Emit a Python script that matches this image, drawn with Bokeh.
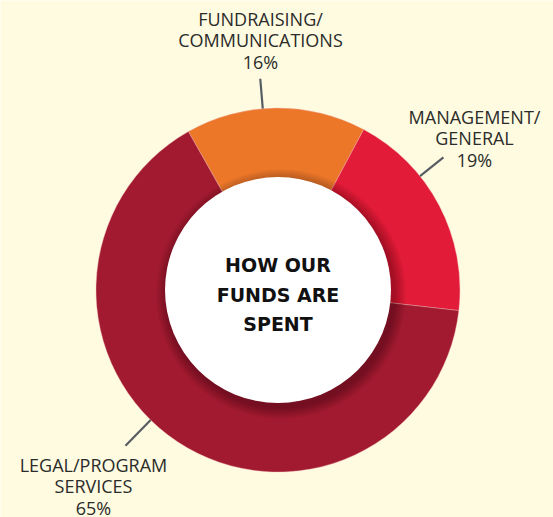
import math
from bokeh.plotting import figure
from bokeh.models import Range1d, ColumnDataSource
from bokeh.core.properties import value
from bokeh.embed import file_html
from bokeh.resources import INLINE

# ---- data ----
categories = ["FUNDRAISING/COMMUNICATIONS", "MANAGEMENT/GENERAL", "LEGAL/PROGRAM SERVICES"]
label_lines = [["FUNDRAISING/", "COMMUNICATIONS"], ["MANAGEMENT/", "GENERAL"], ["LEGAL/PROGRAM", "SERVICES"]]
percents = [16, 19, 65]
title_lines = ["HOW OUR", "FUNDS ARE", "SPENT"]

# ---- styles / layout ----
colors = ["#EC7729", "#E11B38", "#A11A30"]
BG = "#FEFBE0"
W, H = 553, 517
CX, CY = 277.5, H - 289.5
R_OUT, R_IN = 182, 113
START = 119.5  # degrees, first slice starts here and runs clockwise

# label anchors (screen coords: centre x, first baseline y) and leader geometry
label_pos = [(260, 18.5), (474, 116.5), (93, 464.5)]
leader_ang = [94.8, 38.7, 225.6]
leader_len = [30, 30, 36]
LINE_H = 21.3
TITLE_Y0, TITLE_LH = 264.5, 29.5

def sy(y):
    return H - y

p = figure(width=W, height=H, output_backend="svg", toolbar_location=None,
           x_range=Range1d(0, W), y_range=Range1d(0, H),
           min_border=0, background_fill_color=BG, border_fill_color=BG)
p.axis.visible = False
p.grid.visible = False
p.outline_line_color = None

# wedges
total = sum(percents)
starts, ends = [], []
a = START
for v in percents:
    span = 360.0 * v / total
    starts.append(math.radians(a))
    ends.append(math.radians(a - span))
    a -= span
src = ColumnDataSource(dict(cat=categories, val=percents, start=starts, end=ends, color=colors))
p.annular_wedge(x=CX, y=CY, inner_radius=R_IN - 2, outer_radius=R_OUT, start_angle="start", end_angle="end",
                direction="clock", fill_color="color", line_color="#f3b6b6", line_alpha=0.5, line_width=0.8, source=src)

# soft shadow of the centre disc
for i in range(12, 0, -1):
    p.circle(x=CX + 3, y=CY - 4, radius=R_IN + i, fill_color="black", fill_alpha=0.025, line_color=None)
p.circle(x=CX, y=CY, radius=R_IN, fill_color="white", line_color=None)

# leader lines
for ang, ln in zip(leader_ang, leader_len):
    t = math.radians(ang)
    xs = [CX + R_OUT * math.cos(t), CX + (R_OUT + ln) * math.cos(t)]
    ys = [CY + R_OUT * math.sin(t), CY + (R_OUT + ln) * math.sin(t)]
    p.line(xs, ys, line_color="#585d63", line_width=2.2)

# labels
for lines, pct, (lx, ly) in zip(label_lines, percents, label_pos):
    all_lines = lines + [f"{pct}%"]
    for k, t in enumerate(all_lines):
        p.text(x=[lx], y=[sy(ly + k * LINE_H)], text=[t], text_align="center", text_baseline="alphabetic",
               text_font=value("Open Sans"), text_font_size="18px", text_color="#2b2b2b")

# centre title
for k, t in enumerate(title_lines):
    p.text(x=[CX], y=[sy(TITLE_Y0 + k * TITLE_LH)], text=[t], text_align="center", text_baseline="alphabetic",
           text_font=value("DejaVu Sans"), text_font_style="bold", text_font_size="19px", text_color="#111111")

open("out.html", "w").write(file_html(p, INLINE))
